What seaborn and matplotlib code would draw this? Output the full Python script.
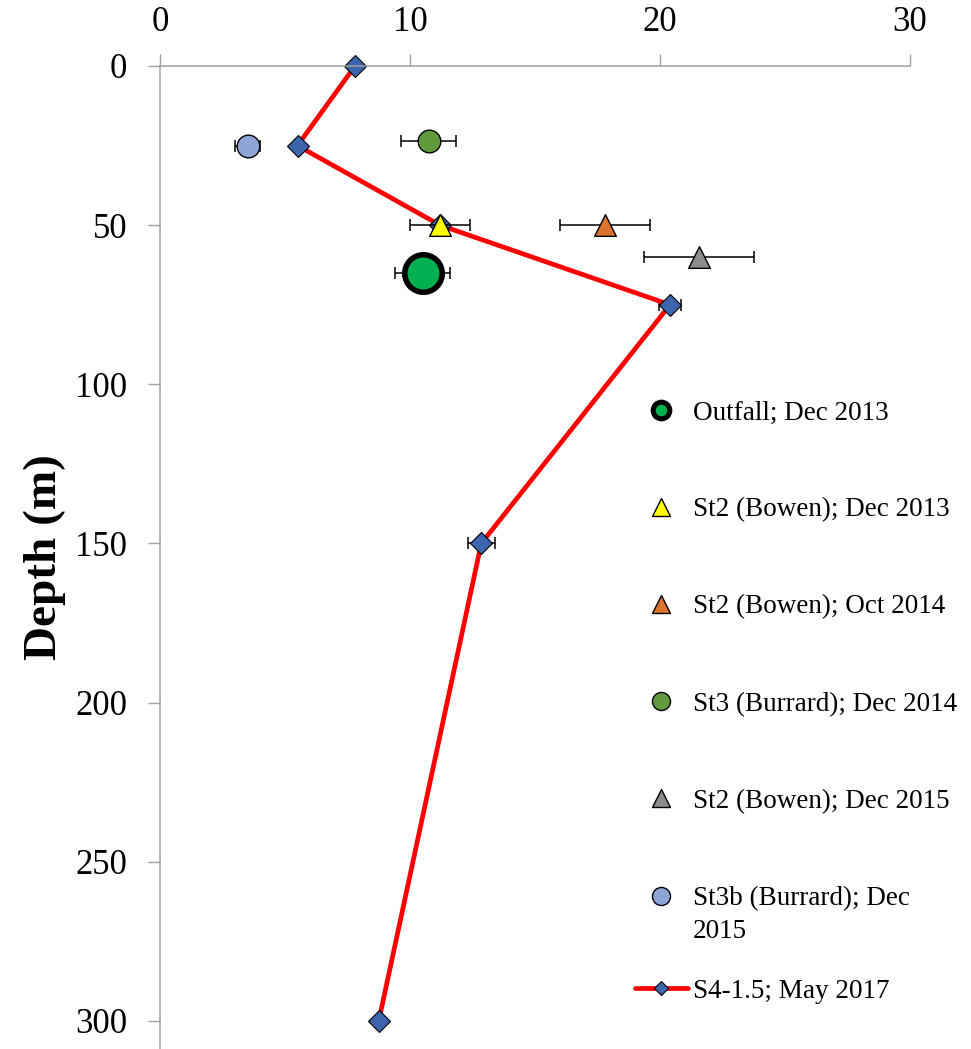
import matplotlib
matplotlib.use("Agg")
import matplotlib.pyplot as plt
from matplotlib.lines import Line2D
from matplotlib.legend_handler import HandlerLine2D
import pandas as pd
import seaborn as sns

# S4-1.5 station profile, May 2017
s4_depth = [0, 25, 50, 75, 150, 300]
s4_value = [7.8, 5.5, 11.2, 20.4, 12.85, 8.75]
s4_err = [0, 0, 0, 0.45, 0.53, 0]
s4_label = "S4-1.5; May 2017"

# Single-depth samples from earlier surveys
sample_labels = [
    "Outfall; Dec 2013",
    "St2 (Bowen); Dec 2013",
    "St2 (Bowen); Oct 2014",
    "St3 (Burrard); Dec 2014",
    "St2 (Bowen); Dec 2015",
    "St3b (Burrard); Dec\n2015",
]
sample_depth = [65, 50, 50, 23.5, 60, 25]
sample_value = [10.5, 11.2, 17.8, 10.75, 21.55, 3.5]
sample_err = [1.1, 1.2, 1.8, 1.1, 2.2, 0.5]

x_ticks = [0, 10, 20, 30]
y_ticks = [0, 50, 100, 150, 200, 250, 300]
y_title = "Depth (m)"

# marker styling per sample: marker, face, edge width (pt), size in plot, size in key
sample_style = [
    ("o", "#00B050", 4.0, 27.0, 12.0),
    ("^", "#FFFF00", 1.0, 15.6, 13.0),
    ("^", "#D9732E", 1.0, 15.6, 13.0),
    ("o", "#61993D", 1.0, 16.3, 13.0),
    ("^", "#8C8C8C", 1.0, 15.6, 13.0),
    ("o", "#8FA5D6", 1.0, 16.3, 13.0),
]
s4_face = "#3C65AE"
spine_gray = "#A0A0A0"


class HandlerFirstLine(HandlerLine2D):
    """Line handler that lifts its marker to sit beside the first text line."""

    def __init__(self, shift, **kw):
        super().__init__(**kw)
        self.shift = shift

    def create_artists(self, legend, orig_handle, xdescent, ydescent, width,
                       height, fontsize, trans):
        artists = super().create_artists(legend, orig_handle, xdescent,
                                         ydescent, width, height, fontsize, trans)
        for a in artists:
            a.set_ydata([y + self.shift for y in a.get_ydata()])
        return artists


sns.set_theme(style="white")
plt.rcParams["font.family"] = ["Liberation Serif", "DejaVu Serif"]
plt.rcParams["text.color"] = "black"
plt.rcParams["axes.labelcolor"] = "black"

W, H = 971, 1049
fig = plt.figure(figsize=(W / 100, H / 100), dpi=100)
ax = fig.add_axes([160 / W, 0, 750 / W, 983 / H])

# profile line
prof = pd.DataFrame({"value": s4_value, "depth": s4_depth})
sns.lineplot(data=prof, x="value", y="depth", orient="y", ax=ax,
             color="#FF0000", linewidth=3.4, marker="D", markersize=10.7,
             markerfacecolor=s4_face, markeredgecolor="black",
             markeredgewidth=0.8, zorder=2, clip_on=False)
err_rows = prof[[e > 0 for e in s4_err]]
ax.errorbar(err_rows["value"], err_rows["depth"],
            xerr=[e for e in s4_err if e > 0], fmt="none", ecolor="black",
            elinewidth=1.1, capsize=4.3, capthick=1.1, zorder=1.5)

# samples with horizontal error bars
samples = pd.DataFrame({"value": sample_value, "depth": sample_depth,
                        "err": sample_err, "label": sample_labels})
ax.errorbar(samples["value"], samples["depth"], xerr=samples["err"],
            fmt="none", ecolor="black", elinewidth=1.1, capsize=4.3,
            capthick=1.1, zorder=2.5)
for i, (mk, fc, ew, ms, _) in enumerate(sample_style):
    sns.scatterplot(data=samples.iloc[[i]], x="value", y="depth", ax=ax,
                    marker=mk, color=fc, s=ms ** 2, edgecolor="black",
                    linewidth=ew, legend=False, zorder=3)

ax.set_xlim(0, 30)
ax.set_ylim(308.8, 0)
ax.set_xticks(x_ticks)
ax.set_yticks(y_ticks)
ax.xaxis.set_ticks_position("top")
ax.xaxis.set_label_position("top")
ax.set_xlabel("")
ax.set_ylabel(y_title, fontsize=34, fontweight="bold", color="black")
ax.yaxis.set_label_coords(-94 / 750, 0.5)
ax.tick_params(axis="both", which="major", labelsize=25, direction="out",
               length=8.6, width=1.0, color=spine_gray, pad=15, labelcolor="black")
ax.tick_params(axis="x", top=True, bottom=False, pad=11)
ax.tick_params(axis="y", left=True, right=False)
for side in ("right", "bottom"):
    ax.spines[side].set_visible(False)
for side in ("top", "left"):
    ax.spines[side].set_color(spine_gray)
    ax.spines[side].set_linewidth(1.1)
ax.grid(False)

# key
handles = [Line2D([], [], linestyle="none", marker=mk, markersize=lk,
                  markerfacecolor=fc, markeredgecolor="black",
                  markeredgewidth=ew if ew < 2 else 3.6)
           for mk, fc, ew, _, lk in sample_style]
fs = 19.5
common = dict(frameon=False, fontsize=fs, handlelength=1.95, handletextpad=0.18,
              borderpad=0, borderaxespad=0, loc="upper left",
              bbox_transform=fig.transFigure, labelcolor="black")
leg1 = ax.legend(handles, sample_labels, labelspacing=2.66,
                 bbox_to_anchor=(635 / W, 1 - 400.5 / H),
                 handler_map={handles[-1]: HandlerFirstLine(13.8)}, **common)
leg1.get_texts()[-1].set_linespacing(1.45)
ax.add_artist(leg1)
s4_handle = Line2D([], [], color="#FF0000", linewidth=3.4, marker="D",
                   markersize=7.6, markerfacecolor=s4_face,
                   markeredgecolor="black", markeredgewidth=0.8)
ax.legend([s4_handle], [s4_label], bbox_to_anchor=(635 / W, 1 - 978.6 / H), **common)

fig.savefig("out.png", dpi=100)
